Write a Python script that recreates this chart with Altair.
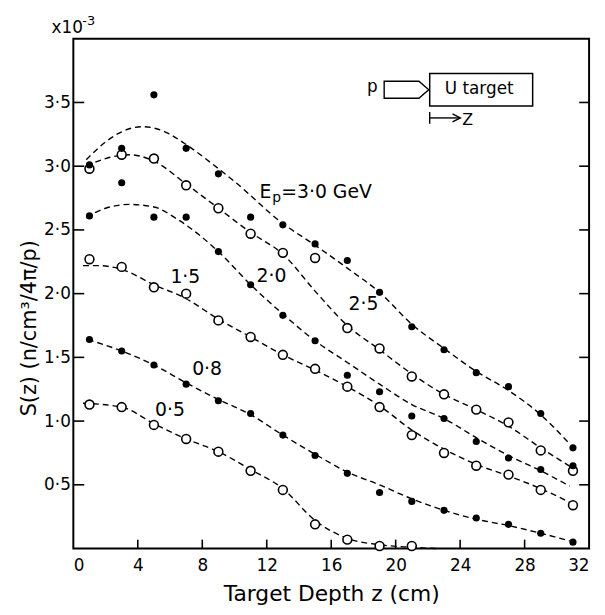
import altair as alt
import pandas as pd

FONT = "DejaVu Sans"

# ---- measured data points (S in units of 1e-3 n/cm^3/4pi/p) ----
z_pts = [1, 3, 5, 7, 9, 11, 13, 15, 17, 19, 21, 23, 25, 27, 29, 31]
s_30 = [3.01, 3.14, 3.56, 3.14, 2.94, 2.60, 2.54, 2.39, 2.26, 2.01, 1.74, 1.56, 1.38, 1.27, 1.06, 0.79]
s_25 = [2.98, 3.09, 3.06, 2.85, 2.67, 2.47, 2.32, 2.28, 1.73, 1.57, 1.35, 1.21, 1.09, 0.99, 0.77, 0.61]
s_20 = [2.61, 2.87, 2.60, 2.60, 2.33, 2.07, 1.83, 1.63, 1.36, 1.23, 1.04, 1.02, 0.84, 0.71, 0.62, 0.65]
s_15 = [2.27, 2.21, 2.05, 2.00, 1.79, 1.66, 1.52, 1.41, 1.27, 1.11, 0.89, 0.75, 0.65, 0.58, 0.46, 0.34]
s_08 = [1.64, 1.55, 1.44, 1.29, 1.16, 1.06, 0.89, 0.73, 0.59, 0.44, 0.37, 0.30, 0.24, 0.19, 0.12, 0.05]
z_05 = [1, 3, 5, 7, 9, 11, 13, 15, 17, 19, 21]
s_05 = [1.13, 1.11, 0.97, 0.86, 0.76, 0.61, 0.46, 0.19, 0.07, 0.02, 0.02]

# ---- dashed fitted curves ----
c30_z = [0.8, 2, 3, 4.3, 5.5, 7, 8.5, 10, 13, 15, 17, 19, 21, 23, 25, 27, 29, 30.8]
c30_s = [3.05, 3.19, 3.27, 3.31, 3.28, 3.17, 3.03, 2.88, 2.55, 2.38, 2.20, 2.01, 1.76, 1.57, 1.39, 1.24, 1.05, 0.82]
c25_z = [0.8, 2, 3.5, 5, 7, 9, 11, 13, 15, 17, 19, 21, 23, 25, 27, 29, 31]
c25_s = [3.00, 3.06, 3.09, 3.04, 2.86, 2.67, 2.48, 2.31, 2.02, 1.75, 1.56, 1.37, 1.21, 1.09, 0.96, 0.79, 0.63]
c20_z = [0.8, 2, 3.5, 5, 6.5, 9, 11, 13, 15, 17, 19, 21, 23, 25, 27, 29, 30.8]
c20_s = [2.60, 2.67, 2.70, 2.68, 2.58, 2.33, 2.07, 1.84, 1.63, 1.46, 1.29, 1.13, 1.02, 0.87, 0.73, 0.61, 0.49]
c15_z = [0.6, 1.5, 3, 5, 7, 9, 11, 13, 15, 17, 19, 21, 23, 25, 27, 29, 31]
c15_s = [2.22, 2.22, 2.19, 2.07, 1.96, 1.80, 1.66, 1.52, 1.40, 1.27, 1.12, 0.93, 0.78, 0.66, 0.57, 0.47, 0.35]
c08_z = [0.9, 3, 5, 7, 9, 11, 13, 15, 17, 19, 21, 23, 25, 27, 29, 30.8]
c08_s = [1.64, 1.55, 1.44, 1.30, 1.17, 1.05, 0.89, 0.74, 0.60, 0.50, 0.39, 0.30, 0.23, 0.18, 0.12, 0.06]
c05_z = [0.6, 3, 5, 7, 9, 11, 13, 15, 17, 19, 21, 22.5]
c05_s = [1.14, 1.11, 0.98, 0.86, 0.76, 0.62, 0.47, 0.22, 0.08, 0.03, 0.01, 0.0]

# ---- axis ticks and curve labels ----
x_labels = [0, 4, 8, 12, 16, 20, 24, 28, 32]
x_ticks = [4, 8, 12, 16, 20, 24, 28]
y_ticks = [0.5, 1.0, 1.5, 2.0, 2.5, 3.0, 3.5]
lab_text = ["1·5", "2·0", "2·5", "0·8", "0·5"]
lab_z = [6.95, 12.3, 18.0, 8.3, 6.0]
lab_s = [2.13, 2.14, 1.92, 1.41, 1.09]

W, H = 521, 515

filled_df = pd.concat([
    pd.DataFrame({"z": z_pts, "s": s_30, "series": "3.0"}),
    pd.DataFrame({"z": z_pts, "s": s_20, "series": "2.0"}),
    pd.DataFrame({"z": z_pts, "s": s_08, "series": "0.8"}),
])
open_df = pd.concat([
    pd.DataFrame({"z": z_pts, "s": s_25, "series": "2.5"}),
    pd.DataFrame({"z": z_pts, "s": s_15, "series": "1.5"}),
    pd.DataFrame({"z": z_05, "s": s_05, "series": "0.5"}),
])
curve_df = pd.concat([
    pd.DataFrame({"z": c30_z, "s": c30_s, "series": "3.0"}),
    pd.DataFrame({"z": c25_z, "s": c25_s, "series": "2.5"}),
    pd.DataFrame({"z": c20_z, "s": c20_s, "series": "2.0"}),
    pd.DataFrame({"z": c15_z, "s": c15_s, "series": "1.5"}),
    pd.DataFrame({"z": c08_z, "s": c08_s, "series": "0.8"}),
    pd.DataFrame({"z": c05_z, "s": c05_s, "series": "0.5"}),
])

xs = alt.Scale(domain=[0, 32], nice=False, zero=False)
ys = alt.Scale(domain=[0, 4.0], nice=False, zero=False)

x_axis = alt.Axis(values=x_labels, ticks=False, domain=False, grid=False,
                  labelFont=FONT, labelFontSize=17, labelColor="black",
                  labelPadding=9, labelFlush=True,
                  title="Target Depth z (cm)", titleFont=FONT, titleFontSize=22,
                  titleFontWeight="normal", titleColor="black",
                  titleY=52, titleBaseline="alphabetic")
y_axis = alt.Axis(values=y_ticks, ticks=False, domain=False, grid=False,
                  labelFont=FONT, labelFontSize=17, labelColor="black",
                  labelPadding=3,
                  labelExpr="replace(format(datum.value, '.1f'), '.', '·')",
                  title="S(z) (n/cm³/4π/p)", titleFont=FONT, titleFontSize=21,
                  titleFontWeight="normal", titleColor="black",
                  titleX=-44, titleY=292, titleAngle=270,
                  titleAlign="center", titleBaseline="middle")


def X():
    return alt.X("z:Q", scale=xs, axis=x_axis)


def Y():
    return alt.Y("s:Q", scale=ys, axis=y_axis)


curves = alt.Chart(curve_df).mark_line(
    color="black", strokeDash=[6, 4], strokeWidth=1.4, interpolate="monotone"
).encode(x=X(), y=Y(), detail="series:N")

opens = alt.Chart(open_df).mark_circle(
    color="white", stroke="black", strokeWidth=1.6, size=80, opacity=1
).encode(x=X(), y=Y())

fills = alt.Chart(filled_df).mark_circle(
    color="black", size=52, opacity=1
).encode(x=X(), y=Y())

xt_df = pd.DataFrame({"z": x_ticks})
yt_df = pd.DataFrame({"s": y_ticks})
xtick = alt.Chart(xt_df).mark_rule(color="black", strokeWidth=1.6).encode(
    x=X(), y=alt.value(H), y2=alt.value(H - 9))
ytick_l = alt.Chart(yt_df).mark_rule(color="black", strokeWidth=1.6).encode(
    y=Y(), x=alt.value(0), x2=alt.value(11))
ytick_r = alt.Chart(yt_df).mark_rule(color="black", strokeWidth=1.6).encode(
    y=Y(), x=alt.value(W - 10), x2=alt.value(W))

labels = alt.Chart(pd.DataFrame({"t": lab_text, "z": lab_z, "s": lab_s})).mark_text(
    font=FONT, fontSize=19, color="black", align="center", baseline="middle"
).encode(x=X(), y=Y(), text="t:N")

ep_E = alt.Chart(pd.DataFrame({"t": ["E"]})).mark_text(
    font=FONT, fontSize=19, color="black", align="left", baseline="alphabetic"
).encode(x=alt.value(188), y=alt.value(161), text="t:N")
ep_p = alt.Chart(pd.DataFrame({"t": ["p"]})).mark_text(
    font=FONT, fontSize=14, color="black", align="left", baseline="alphabetic"
).encode(x=alt.value(201), y=alt.value(165), text="t:N")
ep_rest = alt.Chart(pd.DataFrame({"t": ["=3·0 GeV"]})).mark_text(
    font=FONT, fontSize=19, color="black", align="left", baseline="alphabetic"
).encode(x=alt.value(210), y=alt.value(161), text="t:N")

x10 = alt.Chart(pd.DataFrame({"t": ["x10"]})).mark_text(
    font=FONT, fontSize=17, color="black", align="left", baseline="alphabetic"
).encode(x=alt.value(-22), y=alt.value(-6), text="t:N")
x10e = alt.Chart(pd.DataFrame({"t": ["-3"]})).mark_text(
    font=FONT, fontSize=13, color="black", align="left", baseline="alphabetic"
).encode(x=alt.value(9), y=alt.value(-14), text="t:N")

# ---- inset sketch: proton beam onto U target ----
one = pd.DataFrame({"k": [0]})
p_txt = alt.Chart(pd.DataFrame({"t": ["p"]})).mark_text(
    font=FONT, fontSize=17, color="black", align="center", baseline="alphabetic"
).encode(x=alt.value(302), y=alt.value(54), text="t:N")
beam = alt.Chart(one).mark_point(
    shape="M-1,-0.38L0.56,-0.38L1,0L0.56,0.38L-1,0.38Z", size=2025,
    filled=False, color="black", strokeWidth=1.4, opacity=1
).encode(x=alt.value(336.5), y=alt.value(51.5))
box = alt.Chart(one).mark_rect(
    fill="white", stroke="black", strokeWidth=1.5
).encode(x=alt.value(360), x2=alt.value(464), y=alt.value(35), y2=alt.value(68))
box_txt = alt.Chart(pd.DataFrame({"t": ["U target"]})).mark_text(
    font=FONT, fontSize=17, color="black", align="center", baseline="middle"
).encode(x=alt.value(410), y=alt.value(51), text="t:N")
bar = alt.Chart(one).mark_rule(color="black", strokeWidth=1.4).encode(
    x=alt.value(360), y=alt.value(74), y2=alt.value(86))
shaft = alt.Chart(one).mark_rule(color="black", strokeWidth=1.4).encode(
    x=alt.value(360), x2=alt.value(390), y=alt.value(80))
head = alt.Chart(one).mark_point(
    shape="M-1,-1L1,0L-1,1", size=64, filled=False, color="black",
    strokeWidth=1.4, opacity=1
).encode(x=alt.value(387), y=alt.value(80))
z_txt = alt.Chart(pd.DataFrame({"t": ["Z"]})).mark_text(
    font=FONT, fontSize=16, color="black", align="left", baseline="alphabetic"
).encode(x=alt.value(393), y=alt.value(87), text="t:N")

chart = alt.layer(
    curves, opens, fills, xtick, ytick_l, ytick_r, labels,
    ep_E, ep_p, ep_rest, x10, x10e,
    box, box_txt, beam, p_txt, bar, shaft, head, z_txt,
).properties(
    width=W, height=H,
    autosize=alt.AutoSizeParams(type="none"),
    padding={"left": 66, "top": 28, "right": 8, "bottom": 56},
    background="white",
).configure_view(
    stroke="black", strokeWidth=2
)

chart.save("out.html", embed_options={"renderer": "svg", "actions": False})
